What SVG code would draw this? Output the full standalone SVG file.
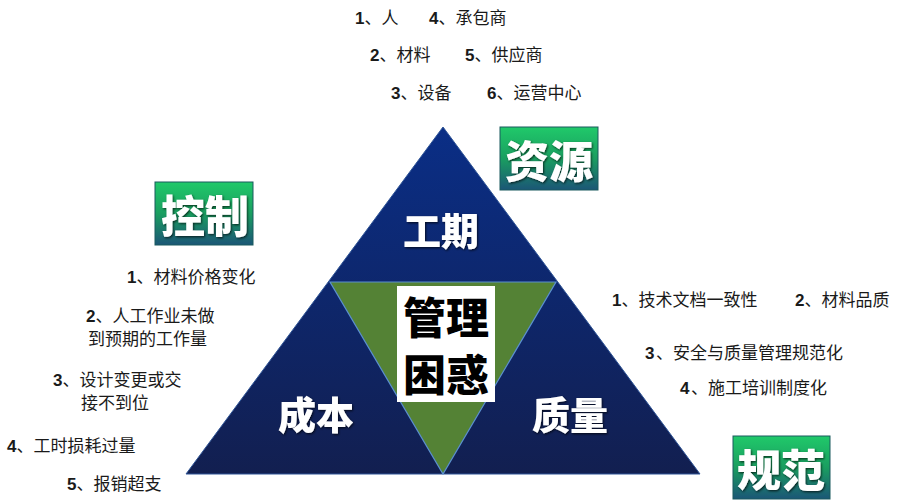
<svg xmlns="http://www.w3.org/2000/svg" width="900" height="500" viewBox="0 0 900 500">
  <defs>
    <linearGradient id="blueGrad" x1="0" y1="0" x2="0" y2="1">
      <stop offset="0" stop-color="#0a2e86"/>
      <stop offset="1" stop-color="#121f50"/>
    </linearGradient>
    <linearGradient id="badgeGrad" x1="0" y1="0" x2="0" y2="1">
      <stop offset="0" stop-color="#20c96a"/>
      <stop offset="0.5" stop-color="#1a9e60"/>
      <stop offset="1" stop-color="#1b5676"/>
    </linearGradient>
    <filter id="shadow" x="-20%" y="-20%" width="140%" height="140%">
      <feDropShadow dx="1" dy="1.2" stdDeviation="0.8" flood-color="#000" flood-opacity="0.7"/>
    </filter>
  </defs>
  <style>
    .item { font-family: "Noto Sans CJK SC", "Liberation Sans", sans-serif; font-size: 17px; fill: #1a1a1a; }
    .num { font-family: "Liberation Sans", "Noto Sans CJK SC", sans-serif; font-weight: bold; }
    .big { font-family: "Noto Sans CJK SC", sans-serif; font-weight: 900; fill: #ffffff; text-anchor: middle; filter: url(#shadow); }
    .center { font-family: "Noto Sans CJK SC", sans-serif; font-weight: 900; fill: #000000; text-anchor: middle; font-size: 43px; }
    .badge { fill: url(#badgeGrad); stroke: #1a5a5e; stroke-width: 1; }
  </style>
  <rect width="900" height="500" fill="#ffffff"/>

  <g id="triangle">
    <polygon points="443,127 700,474 186,474" fill="url(#blueGrad)" stroke="#2f5597" stroke-width="1"/>
    <polygon points="330,282 556,282 443,474" fill="#548235" stroke="#5b8fd0" stroke-width="1.2"/>
  </g>

  <g id="node-gongqi">
    <text class="big" x="441" y="245" font-size="38">工期</text>
  </g>
  <g id="node-chengben">
    <text class="big" x="316" y="429" font-size="38">成本</text>
  </g>
  <g id="node-zhiliang">
    <text class="big" x="570" y="429" font-size="38">质量</text>
  </g>

  <g id="node-center">
    <rect x="397" y="286" width="98" height="116" fill="#ffffff"/>
    <text class="center" x="446" y="334">管理<tspan x="446" dy="57">困惑</tspan></text>
  </g>

  <g id="badge-ziyuan">
    <rect class="badge" x="500" y="127" width="98" height="63"/>
    <text class="big" x="549" y="178" font-size="44">资源</text>
  </g>
  <g id="badge-kongzhi">
    <rect class="badge" x="155" y="182" width="98" height="63"/>
    <text class="big" x="205" y="233" font-size="44">控制</text>
  </g>
  <g id="badge-guifan">
    <rect class="badge" x="733" y="436" width="97" height="63"/>
    <text class="big" x="781" y="487" font-size="44">规范</text>
  </g>

  <g id="resources-list">
    <text class="item" x="355" y="24"><tspan class="num">1</tspan>、人</text>
    <text class="item" x="429" y="24"><tspan class="num">4</tspan>、承包商</text>
    <text class="item" x="370" y="61"><tspan class="num">2</tspan>、材料</text>
    <text class="item" x="465" y="61"><tspan class="num">5</tspan>、供应商</text>
    <text class="item" x="391" y="99"><tspan class="num">3</tspan>、设备</text>
    <text class="item" x="487" y="99"><tspan class="num">6</tspan>、运营中心</text>
  </g>

  <g id="control-list">
    <text class="item" x="127" y="283"><tspan class="num">1</tspan>、材料价格变化</text>
    <text class="item" x="86" y="322"><tspan class="num">2</tspan>、人工作业未做<tspan x="88" dy="23">到预期的工作量</tspan></text>
    <text class="item" x="53" y="386"><tspan class="num">3</tspan>、设计变更或交<tspan x="81" dy="23">接不到位</tspan></text>
    <text class="item" x="7" y="452"><tspan class="num">4</tspan>、工时损耗过量</text>
    <text class="item" x="67" y="490"><tspan class="num">5</tspan>、报销超支</text>
  </g>

  <g id="norms-list">
    <text class="item" x="612" y="306"><tspan class="num">1</tspan>、技术文档一致性</text>
    <text class="item" x="795" y="306"><tspan class="num">2</tspan>、材料品质</text>
    <text class="item" x="645" y="359"><tspan class="num">3</tspan><tspan x="656">、安全与质量管理规范化</tspan></text>
    <text class="item" x="680" y="394"><tspan class="num">4</tspan><tspan x="691">、施工培训制度化</tspan></text>
  </g>
</svg>
